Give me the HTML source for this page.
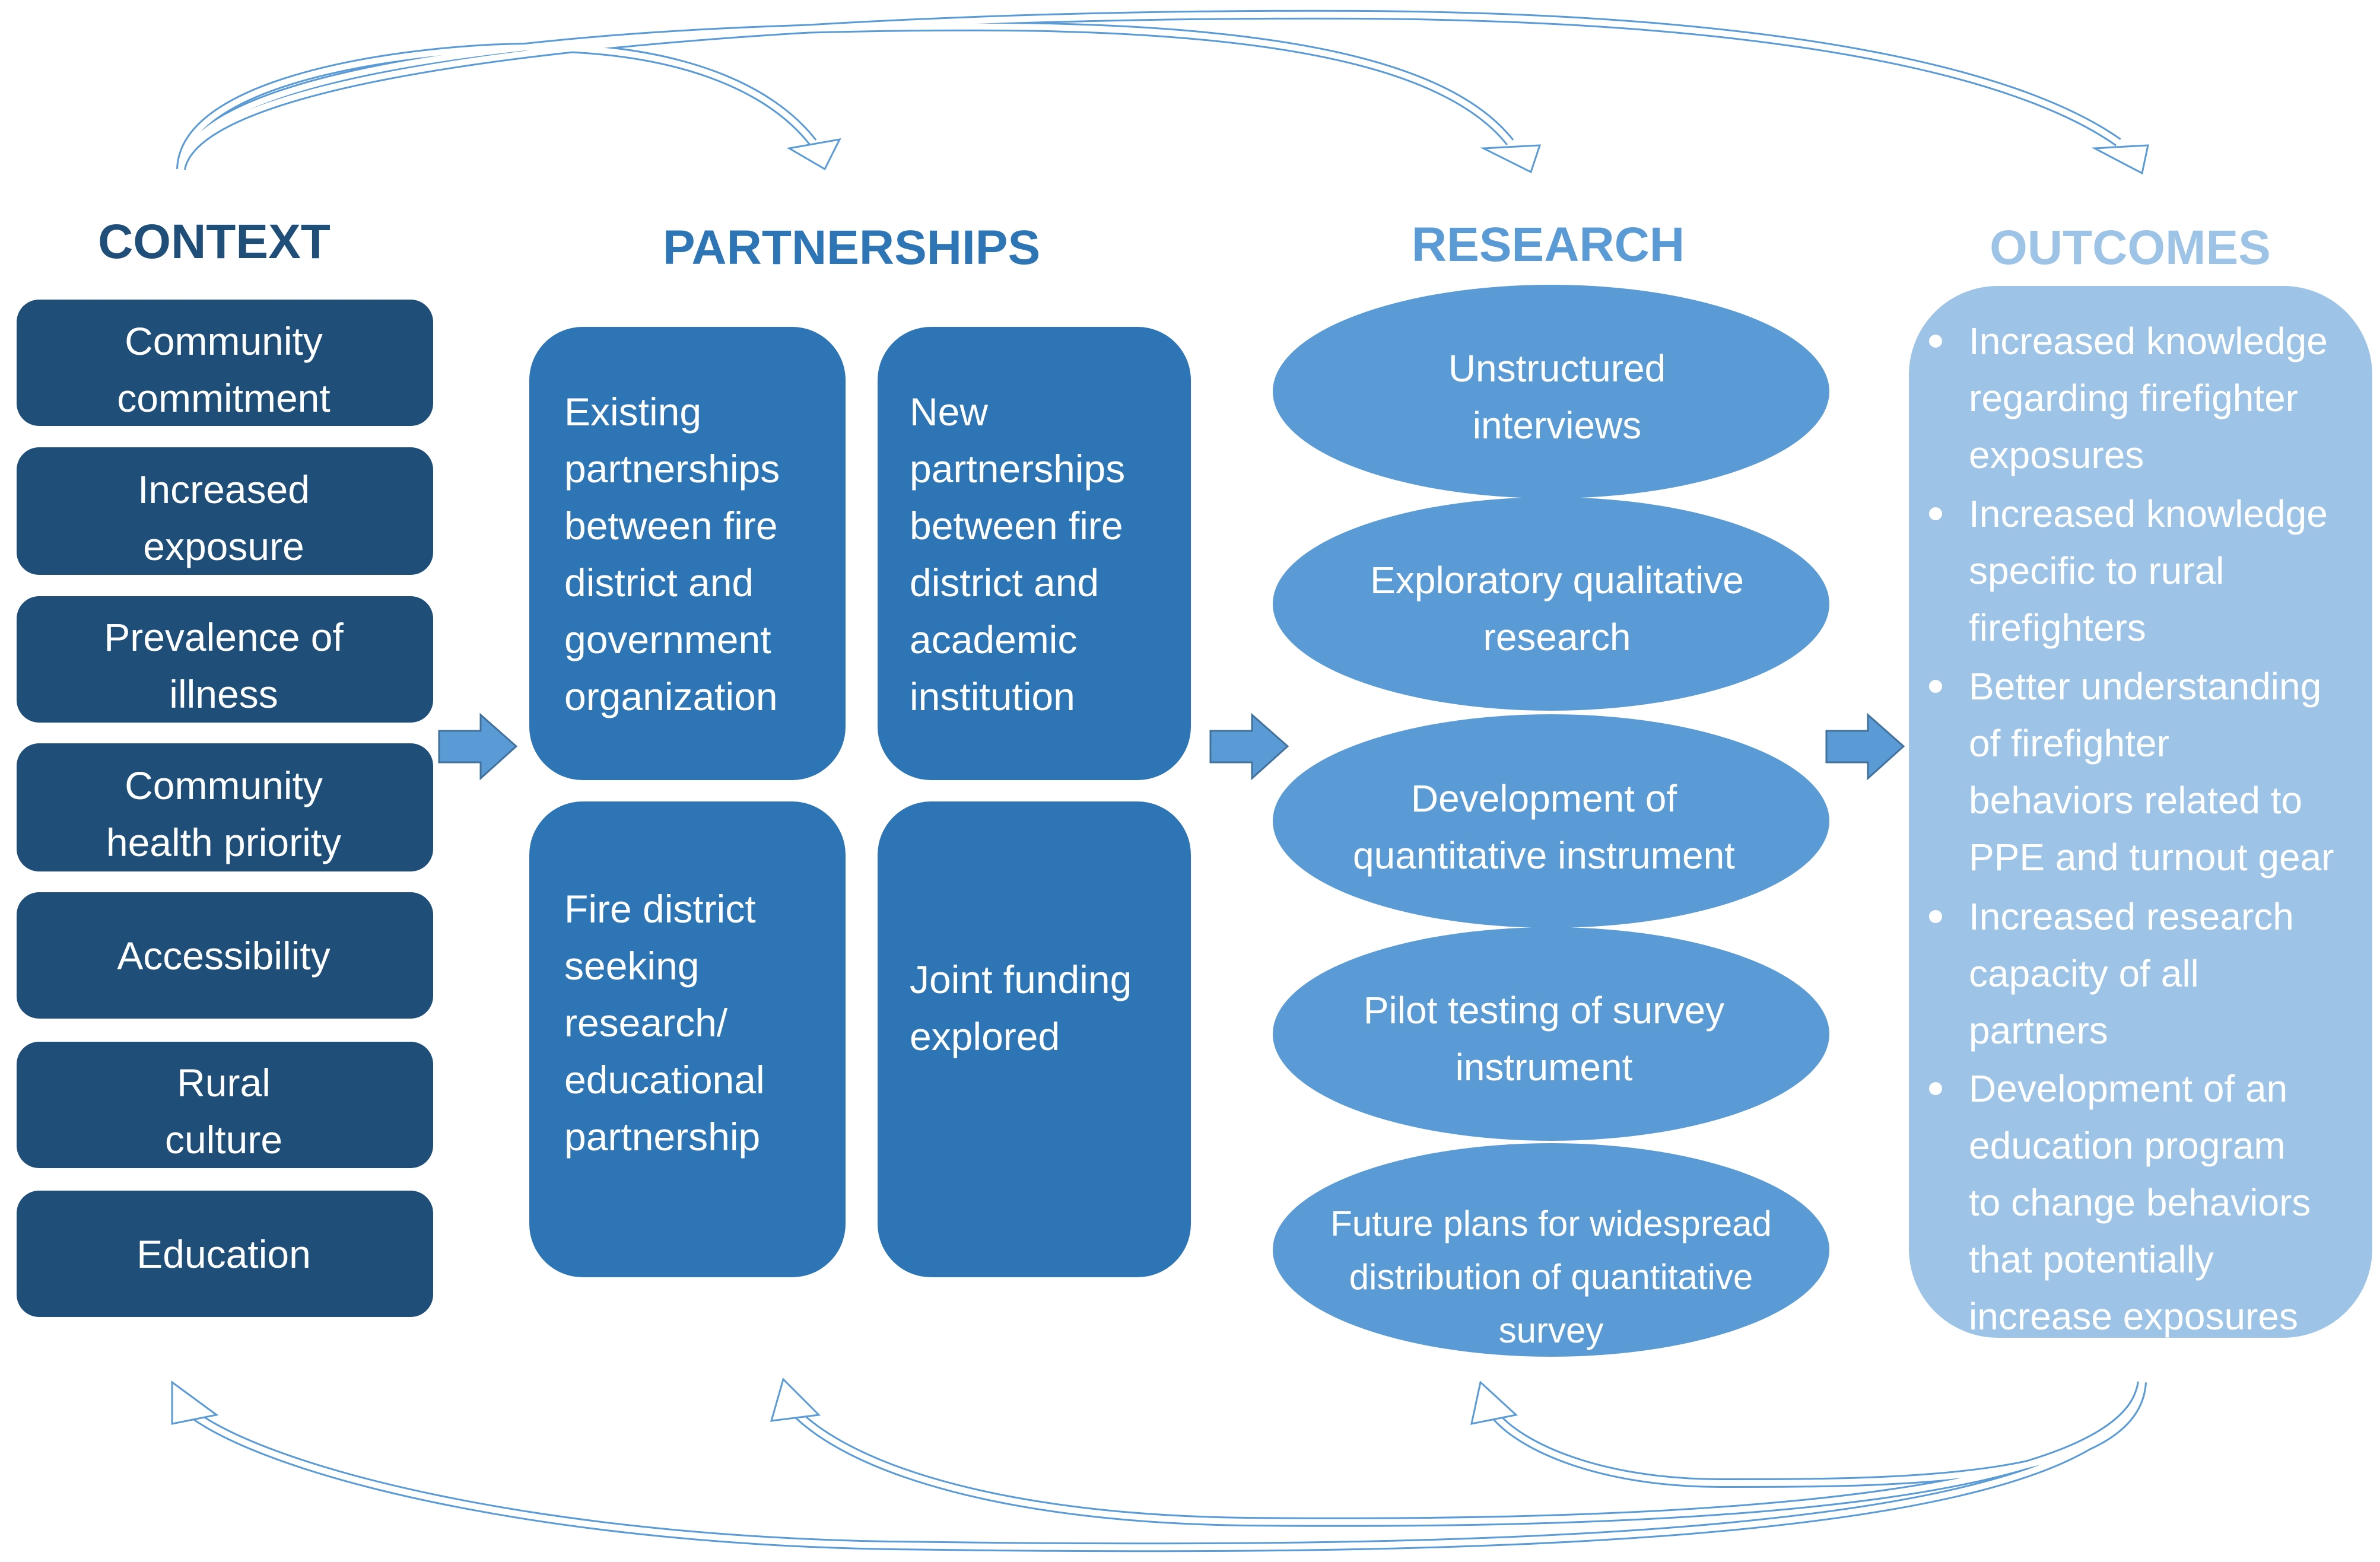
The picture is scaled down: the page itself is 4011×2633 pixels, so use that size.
<!DOCTYPE html>
<html><head><meta charset="utf-8"><style>
html,body{margin:0;padding:0;background:#fff;}
svg{display:block;}
text{font-family:"Liberation Sans",sans-serif;}
</style></head><body>
<svg width="4011" height="2633" viewBox="0 0 4011 2633" xmlns="http://www.w3.org/2000/svg">
<!-- Titles -->
<g font-weight="bold" font-size="82" text-anchor="middle">
<text x="361" y="435" fill="#1F4E79">CONTEXT</text>
<text x="1435" y="445" fill="#2E75B6">PARTNERSHIPS</text>
<text x="2609" y="440" fill="#5B9BD5">RESEARCH</text>
<text x="3590" y="445" fill="#9DC3E6">OUTCOMES</text>
</g>

<!-- Context boxes -->
<g fill="#1F4E79">
<rect x="28" y="505" width="702" height="213" rx="38"/>
<rect x="28" y="754" width="702" height="215" rx="38"/>
<rect x="28" y="1005" width="702" height="213" rx="38"/>
<rect x="28" y="1253" width="702" height="216" rx="38"/>
<rect x="28" y="1504" width="702" height="213" rx="38"/>
<rect x="28" y="1756" width="702" height="213" rx="38"/>
<rect x="28" y="2007" width="702" height="213" rx="38"/>
</g>
<g fill="#fff" font-size="66" text-anchor="middle">
<text x="377" y="598">Community</text><text x="377" y="694">commitment</text>
<text x="377" y="848">Increased</text><text x="377" y="944">exposure</text>
<text x="377" y="1097">Prevalence of</text><text x="377" y="1193">illness</text>
<text x="377" y="1347">Community</text><text x="377" y="1443">health priority</text>
<text x="377" y="1634">Accessibility</text>
<text x="377" y="1848">Rural</text><text x="377" y="1944">culture</text>
<text x="377" y="2137">Education</text>
</g>

<!-- Partnerships boxes -->
<g fill="#2E75B6">
<rect x="892" y="551" width="533" height="764" rx="90"/>
<rect x="1479" y="551" width="528" height="764" rx="90"/>
<rect x="892" y="1351" width="533" height="802" rx="90"/>
<rect x="1479" y="1351" width="528" height="802" rx="90"/>
</g>
<g fill="#fff" font-size="66">
<text x="951" y="717">Existing</text><text x="951" y="813">partnerships</text><text x="951" y="909">between fire</text><text x="951" y="1005">district and</text><text x="951" y="1101">government</text><text x="951" y="1197">organization</text>
<text x="1533" y="717">New</text><text x="1533" y="813">partnerships</text><text x="1533" y="909">between fire</text><text x="1533" y="1005">district and</text><text x="1533" y="1101">academic</text><text x="1533" y="1197">institution</text>
<text x="951" y="1555">Fire district</text><text x="951" y="1651">seeking</text><text x="951" y="1747">research/</text><text x="951" y="1843">educational</text><text x="951" y="1939">partnership</text>
<text x="1533" y="1674">Joint funding</text><text x="1533" y="1770">explored</text>
</g>

<!-- Block arrows -->
<g fill="#5B9BD5" stroke="#41719C" stroke-width="3">
<polygon points="740,1232 810,1232 810,1205 870,1258 810,1312 810,1285 740,1285"/>
<polygon points="2040,1232 2110,1232 2110,1205 2170,1258 2110,1312 2110,1285 2040,1285"/>
<polygon points="3078,1232 3148,1232 3148,1205 3208,1258 3148,1312 3148,1285 3078,1285"/>
</g>

<!-- Research ellipses -->
<g fill="#5B9BD5">
<ellipse cx="2614" cy="660" rx="469" ry="180"/>
<ellipse cx="2614" cy="1018" rx="469" ry="180"/>
<ellipse cx="2614" cy="1384" rx="469" ry="180"/>
<ellipse cx="2614" cy="1743" rx="469" ry="180"/>
<ellipse cx="2614" cy="2107" rx="469" ry="180"/>
</g>
<g fill="#fff" font-size="64" text-anchor="middle">
<text x="2624" y="643">Unstructured</text><text x="2624" y="739">interviews</text>
<text x="2624" y="1000">Exploratory qualitative</text><text x="2624" y="1096">research</text>
<text x="2602" y="1368">Development of</text><text x="2602" y="1464">quantitative instrument</text>
<text x="2602" y="1725">Pilot testing of survey</text><text x="2602" y="1821">instrument</text>
<text x="2614" y="2083" font-size="60">Future plans for widespread</text><text x="2614" y="2173" font-size="60">distribution of quantitative</text><text x="2614" y="2263" font-size="60">survey</text>
</g>

<!-- Outcomes -->
<rect x="3217" y="482" width="781" height="1773" rx="150" fill="#9DC3E6"/>
<g fill="#fff">
<circle cx="3262" cy="575" r="11"/><circle cx="3262" cy="866" r="11"/><circle cx="3262" cy="1157" r="11"/><circle cx="3262" cy="1545" r="11"/><circle cx="3262" cy="1835" r="11"/>
</g>
<g fill="#fff" font-size="64">
<text x="3318" y="597">Increased knowledge</text>
<text x="3318" y="693">regarding firefighter</text>
<text x="3318" y="789">exposures</text>
<text x="3318" y="888">Increased knowledge</text>
<text x="3318" y="984">specific to rural</text>
<text x="3318" y="1080">firefighters</text>
<text x="3318" y="1179">Better understanding</text>
<text x="3318" y="1275">of firefighter</text>
<text x="3318" y="1371">behaviors related to</text>
<text x="3318" y="1467">PPE and turnout gear</text>
<text x="3318" y="1567">Increased research</text>
<text x="3318" y="1663">capacity of all</text>
<text x="3318" y="1759">partners</text>
<text x="3318" y="1857">Development of an</text>
<text x="3318" y="1953">education program</text>
<text x="3318" y="2049">to change behaviors</text>
<text x="3318" y="2145">that potentially</text>
<text x="3318" y="2241">increase exposures</text>
</g>

<!-- Curved arrows (hollow) -->
<g fill="none" stroke-linecap="butt">
<g stroke="#5B9BD5" stroke-width="16">
<path d="M305,285 C310,130 700,80 900,80 C1150,80 1300,150 1370,240"/>
<path d="M305,285 C330,110 1000,40 1700,45 C2200,50 2450,120 2545,240"/>
<path d="M305,285 C340,90 1400,20 2300,25 C3000,30 3400,120 3570,240"/>
<path d="M3610,2330 C3600,2500 3200,2500 2900,2500 C2700,2500 2560,2440 2515,2380"/>
<path d="M3610,2330 C3580,2560 2600,2570 2100,2565 C1700,2560 1440,2480 1340,2380"/>
<path d="M3610,2330 C3560,2620 2300,2615 1500,2605 C900,2595 450,2480 320,2380"/>
</g>
<g stroke="#fff" stroke-width="10">
<path d="M305,285 C310,130 700,80 900,80 C1150,80 1300,150 1370,240"/>
<path d="M305,285 C330,110 1000,40 1700,45 C2200,50 2450,120 2545,240"/>
<path d="M305,285 C340,90 1400,20 2300,25 C3000,30 3400,120 3570,240"/>
<path d="M3610,2330 C3600,2500 3200,2500 2900,2500 C2700,2500 2560,2440 2515,2380"/>
<path d="M3610,2330 C3580,2560 2600,2570 2100,2565 C1700,2560 1440,2480 1340,2380"/>
<path d="M3610,2330 C3560,2620 2300,2615 1500,2605 C900,2595 450,2480 320,2380"/>
</g>
</g>
<g fill="#fff" stroke="#5B9BD5" stroke-width="3">
<polygon points="1330,250 1415,235 1390,285"/>
<polygon points="2500,250 2595,245 2580,290"/>
<polygon points="3530,250 3620,245 3610,292"/>
<polygon points="2555,2385 2495,2330 2480,2400"/>
<polygon points="1380,2385 1320,2325 1300,2395"/>
<polygon points="365,2385 290,2330 290,2400"/>
</g>
</svg>
</body></html>
